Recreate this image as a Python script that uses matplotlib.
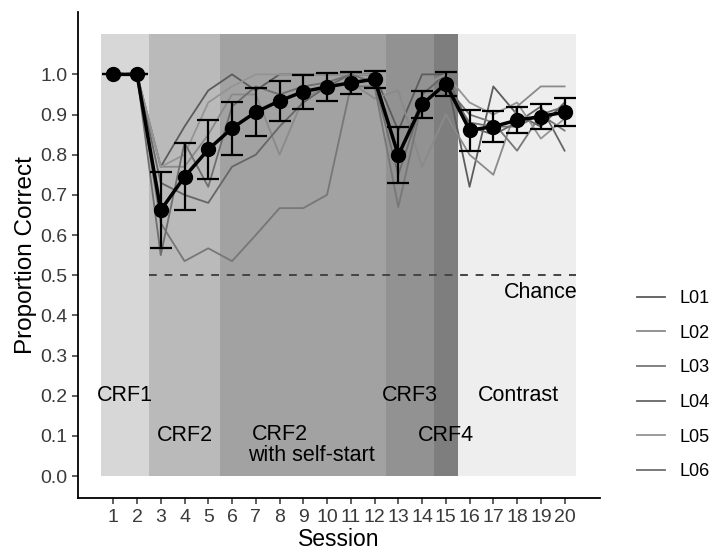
import matplotlib
matplotlib.use("Agg")
import matplotlib.pyplot as plt
import numpy as np

plt.rcParams["font.family"] = ["Liberation Sans", "DejaVu Sans"]

sessions = np.arange(1, 21)

mean_correct = [1.0, 1.0, 0.662, 0.745, 0.813, 0.866, 0.906, 0.934, 0.957, 0.969,
                0.979, 0.988, 0.799, 0.925, 0.977, 0.861, 0.870, 0.886, 0.895, 0.906]
se_correct = [0.0, 0.0, 0.095, 0.083, 0.073, 0.066, 0.060, 0.050, 0.042, 0.035,
              0.028, 0.021, 0.070, 0.034, 0.030, 0.051, 0.038, 0.032, 0.031, 0.035]

subjects = ["L01", "L02", "L03", "L04", "L05", "L06"]
subject_colors = ["#5c5c5c", "#8a8a8a", "#777777", "#666666", "#949494", "#6e6e6e"]
L01 = [1.0, 1.0, 0.77, 0.87, 0.96, 1.0, 0.96, 1.0, 1.0, 1.0, 1.0, 1.0, 0.86, 1.0, 1.0, 0.72, 0.97, 0.90, 0.87, 0.93]
L02 = [1.0, 1.0, 0.77, 0.77, 0.85, 0.95, 0.95, 0.80, 0.94, 0.97, 0.98, 0.94, 0.96, 0.77, 0.90, 0.80, 0.75, 0.92, 0.97, 0.97]
L03 = [1.0, 1.0, 0.63, 0.535, 0.567, 0.535, 0.60, 0.667, 0.667, 0.70, 0.97, 0.97, 0.67, 0.93, 0.97, 0.90, 0.88, 0.81, 0.90, 0.86]
L04 = [1.0, 1.0, 0.73, 0.70, 0.68, 0.77, 0.80, 0.87, 0.93, 0.97, 1.0, 1.0, 0.79, 0.95, 1.0, 0.87, 0.85, 0.88, 0.92, 0.81]
L05 = [1.0, 1.0, 0.77, 0.80, 0.93, 0.97, 1.0, 1.0, 1.0, 1.0, 1.0, 1.0, 0.76, 0.97, 1.0, 0.93, 0.90, 0.93, 0.84, 0.89]
L06 = [1.0, 1.0, 0.55, 0.83, 0.72, 0.92, 0.97, 0.95, 0.97, 0.98, 1.0, 0.98, 0.75, 0.93, 0.97, 0.88, 0.87, 0.87, 0.90, 0.92]
subject_values = [L01, L02, L03, L04, L05, L06]

# training phases: (start, end, fill)
phase_start = [0.5, 2.5, 5.5, 12.5, 14.5, 15.5]
phase_end = [2.5, 5.5, 12.5, 14.5, 15.5, 20.5]
phase_fill = ["#d7d7d7", "#bababa", "#a2a2a2", "#929292", "#7e7e7e", "#eeeeee"]
phase_top = 1.1

phase_labels = ["CRF1", "CRF2", "CRF2", "with self-start", "CRF3", "CRF4", "Contrast"]
label_x = [1.5, 4.0, 8.0, 9.35, 13.5, 15.0, 18.05]
label_y = [0.2, 0.1, 0.104, 0.052, 0.2, 0.1, 0.2]

chance = 0.5

fig = plt.figure(figsize=(7.12, 5.51), dpi=100)
ax = fig.add_axes([0.109, 0.096, 0.734, 0.882])

for x0, x1, fill in zip(phase_start, phase_end, phase_fill):
    ax.fill_between([x0, x1], 0, phase_top, color=fill, linewidth=0, zorder=0)

for text, x, y in zip(phase_labels, label_x, label_y):
    ax.text(x, y, text, ha="center", va="center", fontsize=15.5, color="black", zorder=5)

ax.plot([2.5, 20.5], [chance, chance], color="#444444", linestyle=(0, (4, 4)),
        linewidth=1.4, zorder=2)
ax.text(20.55, 0.456, "Chance", ha="right", va="center", fontsize=15.5, zorder=5)

for name, vals, color in zip(subjects, subject_values, subject_colors):
    ax.plot(sessions, vals, color=color, linewidth=1.3, label=name, zorder=3)

ax.errorbar(sessions, mean_correct, yerr=se_correct, color="black", linewidth=2.5,
            marker="o", markersize=10, elinewidth=1.6, capsize=7.8, capthick=1.6,
            zorder=4)

ax.set_xlim(-0.5, 21.5)
ax.set_ylim(-0.055, 1.155)
ax.set_xticks(sessions)
ax.set_yticks(np.round(np.arange(0, 1.01, 0.1), 1))
ax.set_yticklabels([f"{v:.1f}" for v in np.arange(0, 1.01, 0.1)])
ax.tick_params(axis="both", labelsize=14, labelcolor="#3a3a3a", color="#333333",
               length=4, width=1.1)
for side in ["top", "right"]:
    ax.spines[side].set_visible(False)
for side in ["left", "bottom"]:
    ax.spines[side].set_linewidth(1.3)
ax.set_xlabel("Session", fontsize=16.5, labelpad=2)
ax.set_ylabel("Proportion Correct", fontsize=17.5, labelpad=2)
ax.set_facecolor("white")

handles, labels = ax.get_legend_handles_labels()
fig.legend(handles, labels, loc="center left", bbox_to_anchor=(0.894, 0.301),
           frameon=False, fontsize=13, handlelength=1.6, handletextpad=0.8,
           labelspacing=0.98, borderaxespad=0, borderpad=0)

fig.savefig("out.png", dpi=100)
